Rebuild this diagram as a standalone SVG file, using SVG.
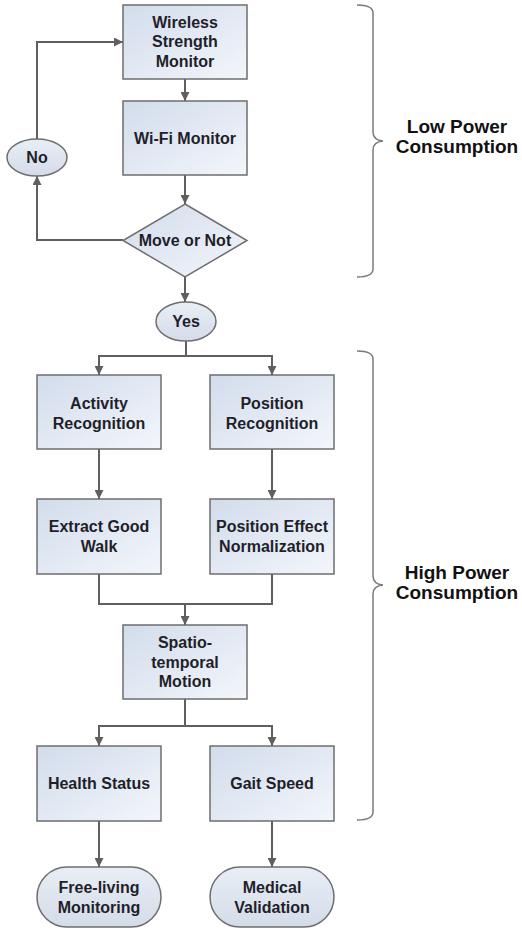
<svg xmlns="http://www.w3.org/2000/svg" width="522" height="930" viewBox="0 0 522 930">
<defs>
<linearGradient id="boxg" x1="0" y1="0" x2="1" y2="1">
<stop offset="0" stop-color="#d2dcec"/>
<stop offset="1" stop-color="#f3f6fb"/>
</linearGradient>
<linearGradient id="ovalg" x1="0" y1="0" x2="0" y2="1">
<stop offset="0" stop-color="#e9eef6"/>
<stop offset="1" stop-color="#d4dce8"/>
</linearGradient>
<marker id="arr" viewBox="0 0 10 10" refX="10" refY="5" markerWidth="9" markerHeight="9" markerUnits="userSpaceOnUse" orient="auto">
<path d="M0,0 L10,5 L0,10 z" fill="#5f5f5f"/>
</marker>
</defs>
<style>
.box{fill:url(#boxg);stroke:#6e6e6e;stroke-width:1.5}
.oval{fill:url(#ovalg);stroke:#6e6e6e;stroke-width:1.5}
.t{font-family:"Liberation Sans",Arial,sans-serif;font-weight:bold;font-size:16px;fill:#1f1f2a;text-anchor:middle}
.big{font-family:"Liberation Sans",Arial,sans-serif;font-weight:bold;font-size:19px;fill:#111;text-anchor:middle}
.c{fill:none;stroke:#5f5f5f;stroke-width:2}
.a{marker-end:url(#arr)}
.brace{fill:none;stroke:#7a7a7a;stroke-width:1.5}
</style>
<rect width="522" height="930" fill="#ffffff"/>
<g id="connectors">
<path class="c a" d="M185,79 V101"/>
<path class="c a" d="M185,175 V204"/>
<path class="c a" d="M185,277 V302"/>
<path class="c a" d="M123,240 H37 V176"/>
<path class="c a" d="M37,139 V42 H123"/>
<path class="c a" d="M186,341 V356 H99 V375"/>
<path class="c a" d="M186,356 H272 V375"/>
<path class="c a" d="M99,449 V499"/>
<path class="c a" d="M272,449 V499"/>
<path class="c a" d="M99,574 V604 H185 V625"/>
<path class="c" d="M272,574 V604 H185"/>
<path class="c a" d="M185,699 V726 H99 V746"/>
<path class="c a" d="M185,726 H272 V746"/>
<path class="c a" d="M99,821 V867"/>
<path class="c a" d="M272,821 V867"/>
</g>
<g id="wireless-strength-monitor">
<rect class="box" x="123" y="5" width="124" height="74"/>
<text class="t" x="185" y="27.5">Wireless</text>
<text class="t" x="185" y="47">Strength</text>
<text class="t" x="185" y="66.5">Monitor</text>
</g>
<g id="wifi-monitor">
<rect class="box" x="123" y="101" width="124" height="74"/>
<text class="t" x="185" y="143.5">Wi-Fi Monitor</text>
</g>
<g id="move-or-not">
<polygon class="box" points="185,204 247,240.5 185,277 123,240.5"/>
<text class="t" x="185" y="246">Move or Not</text>
</g>
<g id="no">
<ellipse class="oval" cx="37" cy="157.5" rx="30" ry="18.5"/>
<text class="t" x="37" y="163">No</text>
</g>
<g id="yes">
<ellipse class="oval" cx="186" cy="321.5" rx="30" ry="19.5"/>
<text class="t" x="186" y="327">Yes</text>
</g>
<g id="activity-recognition">
<rect class="box" x="37" y="375" width="124" height="74"/>
<text class="t" x="99" y="409">Activity</text>
<text class="t" x="99" y="428.5">Recognition</text>
</g>
<g id="position-recognition">
<rect class="box" x="210" y="375" width="124" height="74"/>
<text class="t" x="272" y="409">Position</text>
<text class="t" x="272" y="428.5">Recognition</text>
</g>
<g id="extract-good-walk">
<rect class="box" x="37" y="499" width="124" height="75"/>
<text class="t" x="99" y="532">Extract Good</text>
<text class="t" x="99" y="551.5">Walk</text>
</g>
<g id="position-effect-normalization">
<rect class="box" x="210" y="499" width="124" height="75"/>
<text class="t" x="272" y="532">Position Effect</text>
<text class="t" x="272" y="551.5">Normalization</text>
</g>
<g id="spatio-temporal-motion">
<rect class="box" x="123" y="625" width="124" height="74"/>
<text class="t" x="185" y="648">Spatio-</text>
<text class="t" x="185" y="667.5">temporal</text>
<text class="t" x="185" y="687">Motion</text>
</g>
<g id="health-status">
<rect class="box" x="37" y="746" width="124" height="75"/>
<text class="t" x="99" y="788.5">Health Status</text>
</g>
<g id="gait-speed">
<rect class="box" x="210" y="746" width="124" height="75"/>
<text class="t" x="272" y="788.5">Gait Speed</text>
</g>
<g id="free-living-monitoring">
<rect class="oval" x="37" y="867" width="124" height="60" rx="30" ry="30"/>
<text class="t" x="99" y="893">Free-living</text>
<text class="t" x="99" y="912.5">Monitoring</text>
</g>
<g id="medical-validation">
<rect class="oval" x="210" y="867" width="124" height="60" rx="30" ry="30"/>
<text class="t" x="272" y="893">Medical</text>
<text class="t" x="272" y="912.5">Validation</text>
</g>
<g id="low-power">
<path class="brace" d="M357,5 Q373,5 373,13 V132 Q373,140 383,141 Q373,142 373,150 V269 Q373,277 357,277"/>
<text class="big" x="457" y="133">Low Power</text>
<text class="big" x="457" y="153">Consumption</text>
</g>
<g id="high-power">
<path class="brace" d="M357,351 Q373,351 373,359 V576 Q373,584 383,585 Q373,586 373,594 V812 Q373,820 357,820"/>
<text class="big" x="457" y="579">High Power</text>
<text class="big" x="457" y="599">Consumption</text>
</g>
</svg>
